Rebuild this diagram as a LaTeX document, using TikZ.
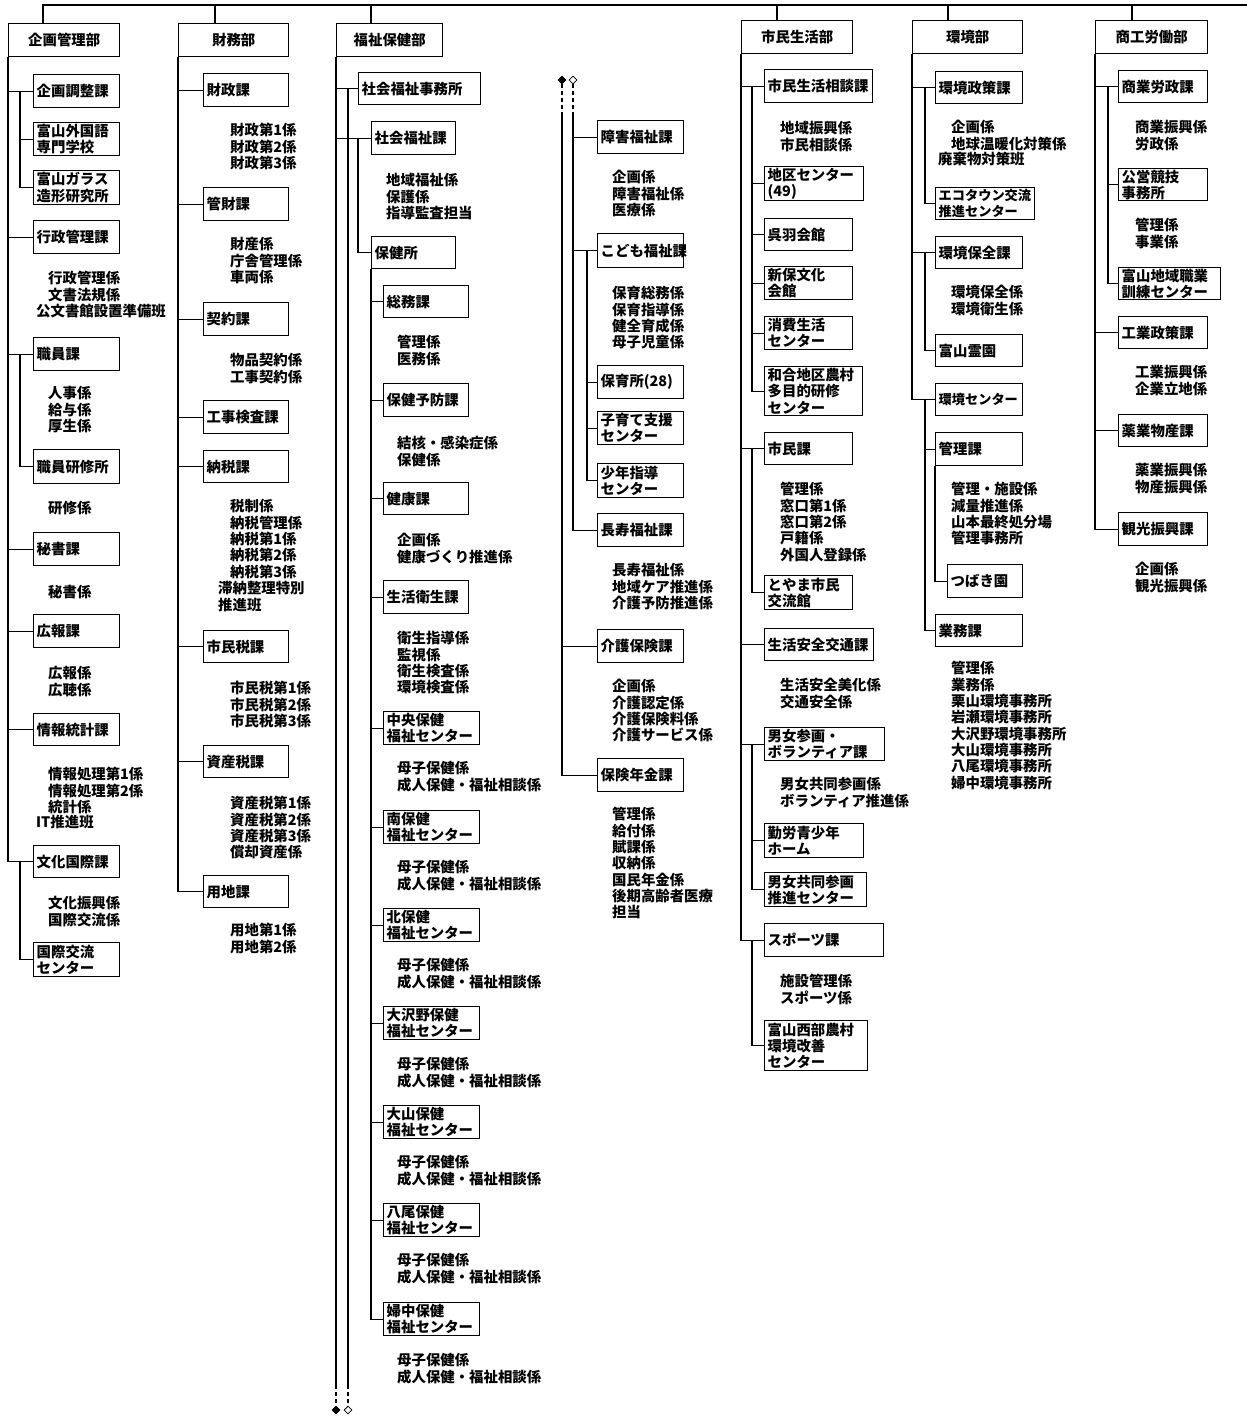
\documentclass[tikz,border=0pt]{standalone}
\usepackage{fontspec}
\setmainfont{Noto Sans CJK JP}
\usetikzlibrary{shapes.geometric}
\newcommand\txtfont{\bfseries\fontsize{14.4}{16.3}\selectfont}
\newcommand\ob[6]{\pgfmathsetmacro\obw{#4-#2-6}\pgfmathsetmacro\obh{#5-#3}%
  \node[obox, anchor=north west, text width=\obw pt, minimum height=\obh pt] (#1) at (#2,#3) {#6};}
\newcommand\db[6]{\pgfmathsetmacro\obw{#4-#2}\pgfmathsetmacro\obh{#5-#3}%
  \node[dbox, anchor=north west, minimum width=\obw pt, minimum height=\obh pt] (#1) at (#2,#3) {#6};}
\newcommand\lst[4]{\node[lsttext, anchor=north west] (#1) at (#2,#3-6.7) {#4};}
\begin{document}
\begin{tikzpicture}[x=1pt,y=-1pt,
  ln/.style={line width=1.4pt},
  obox/.style={draw, line width=1.4pt, inner xsep=3pt, inner ysep=0pt, align=left, font=\txtfont},
  dbox/.style={draw, line width=1.4pt, inner sep=0pt, align=center, font=\txtfont},
  lsttext/.style={inner sep=0pt, align=left, font=\txtfont},
  fdia/.style={diamond, draw, fill=black, inner sep=0pt, minimum size=8pt, line width=0.8pt},
  odia/.style={diamond, draw, fill=white, inner sep=0pt, minimum size=8pt, line width=0.8pt}]
\useasboundingbox (0,0) rectangle (1247,1416);
\fill[white] (0,0) rectangle (1247,1416);
\coordinate (topR) at (1247,5);

% ---------- column 1 ----------
\db{d1}{8}{23}{119}{56}{企画管理部}
\ob{k1}{33}{74}{119}{107}{企画調整課}
\ob{k2}{33}{122}{119}{155}{富山外国語\\専門学校}
\ob{k3}{33}{170}{119}{204}{富山ガラス\\造形研究所}
\ob{k4}{33}{220}{119}{253}{行政管理課}
\lst{l4}{48}{278}{行政管理係\\文書法規係}
\lst{l4b}{36}{311}{公文書館設置準備班}
\ob{k5}{33}{337}{119}{370}{職員課}
\lst{l5}{48}{393}{人事係\\給与係\\厚生係}
\ob{k6}{33}{449}{119}{483}{職員研修所}
\lst{l6}{48}{508}{研修係}
\ob{k7}{33}{532}{119}{565}{秘書課}
\lst{l7}{48}{592}{秘書係}
\ob{k8}{33}{614}{119}{647}{広報課}
\lst{l8}{48}{673}{広報係\\広聴係}
\ob{k9}{33}{713}{119}{745}{情報統計課}
\lst{l9}{48}{774}{情報処理第1係\\情報処理第2係\\統計係}
\lst{l9b}{36}{822}{IT推進班}
\ob{k10}{33}{845}{119}{877}{文化国際課}
\lst{l10}{48}{903}{文化振興係\\国際交流係}
\ob{k11}{33}{942}{119}{976}{国際交流\\センター}
\coordinate (s1) at (20,0);
\draw[ln] ([xshift=35pt]d1.north west) |- (topR);
\draw[ln] (d1.south west) |- (k10.west);
\foreach \n in {k1,k4,k5,k7,k8,k9} \draw[ln] (d1.south west |- \n.west) -- (\n.west);
\draw[ln] (s1 |- k1.west) |- (k3.west);
\draw[ln] (s1 |- k2.west) -- (k2.west);
\draw[ln] (s1 |- k5.west) |- (k6.west);
\draw[ln] (s1 |- k10.west) |- (k11.west);

% ---------- column 2 ----------
\db{d2}{178}{23}{288}{56}{財務部}
\ob{z1}{203}{73}{288}{106}{財政課}
\lst{m1}{230}{130}{財政第1係\\財政第2係\\財政第3係}
\ob{z2}{203}{187}{288}{220}{管財課}
\lst{m2}{230}{244}{財産係\\庁舎管理係\\車両係}
\ob{z3}{203}{302}{288}{335}{契約課}
\lst{m3}{230}{360}{物品契約係\\工事契約係}
\ob{z4}{203}{400}{288}{433}{工事検査課}
\ob{z5}{203}{450}{288}{482}{納税課}
\lst{m5}{230}{506}{税制係\\納税管理係\\納税第1係\\納税第2係\\納税第3係}
\lst{m5b}{218}{588}{滞納整理特別\\推進班}
\ob{z6}{203}{630}{288}{662}{市民税課}
\lst{m6}{230}{688}{市民税第1係\\市民税第2係\\市民税第3係}
\ob{z7}{203}{745}{288}{777}{資産税課}
\lst{m7}{230}{803}{資産税第1係\\資産税第2係\\資産税第3係\\償却資産係}
\ob{z8}{203}{875}{288}{907}{用地課}
\lst{m8}{230}{930}{用地第1係\\用地第2係}
\draw[ln] ([xshift=37pt]d2.north west) |- (topR);
\draw[ln] (d2.south west) |- (z8.west);
\foreach \n in {z1,z2,z3,z4,z5,z6,z7} \draw[ln] (d2.south west |- \n.west) -- (\n.west);

% ---------- column 3 ----------
\db{d3}{336}{23}{442}{56}{福祉保健部}
\ob{f1}{358}{72}{480}{104}{社会福祉事務所}
\ob{f2}{371}{121}{455}{154}{社会福祉課}
\lst{n2}{386}{180}{地域福祉係\\保護係\\指導監査担当}
\ob{f3}{371}{236}{455}{268}{保健所}
\ob{f4}{383}{285}{468}{317}{総務課}
\lst{n4}{397}{342}{管理係\\医務係}
\ob{f5}{383}{383}{468}{416}{保健予防課}
\lst{n5}{397}{443}{結核・感染症係\\保健係}
\ob{f6}{383}{482}{468}{514}{健康課}
\lst{n6}{397}{540}{企画係\\健康づくり推進係}
\ob{f7}{383}{580}{468}{613}{生活衛生課}
\lst{n7}{397}{638}{衛生指導係\\監視係\\衛生検査係\\環境検査係}
\ob{c1}{383}{711}{479}{744}{中央保健\\福祉センター}
\lst{p1}{397}{768}{母子保健係\\成人保健・福祉相談係}
\ob{c2}{383}{810}{479}{843}{南保健\\福祉センター}
\lst{p2}{397}{867}{母子保健係\\成人保健・福祉相談係}
\ob{c3}{383}{908}{479}{941}{北保健\\福祉センター}
\lst{p3}{397}{965}{母子保健係\\成人保健・福祉相談係}
\ob{c4}{383}{1006}{479}{1039}{大沢野保健\\福祉センター}
\lst{p4}{397}{1064}{母子保健係\\成人保健・福祉相談係}
\ob{c5}{383}{1105}{479}{1138}{大山保健\\福祉センター}
\lst{p5}{397}{1162}{母子保健係\\成人保健・福祉相談係}
\ob{c6}{383}{1203}{479}{1236}{八尾保健\\福祉センター}
\lst{p6}{397}{1260}{母子保健係\\成人保健・福祉相談係}
\ob{c7}{383}{1302}{479}{1335}{婦中保健\\福祉センター}
\lst{p7}{397}{1360}{母子保健係\\成人保健・福祉相談係}
\draw[ln] ([xshift=35pt]d3.north west) |- (topR);
\coordinate (A) at (336,0);
\coordinate (B) at (348,0);
\coordinate (C) at (358,0);
\coordinate (Aend) at (336,1385);
\coordinate (Bend) at (348,1385);
\node[fdia] (dA) at (336,1410) {};
\node[odia] (dB) at (348,1410) {};
\draw[ln] (d3.south west) -- (Aend);
\draw[ln, dash pattern=on 4pt off 3pt] (Aend) -- (dA.north);
\draw[ln] (A |- f1.west) -- (f1.west);
\draw[ln] (B |- f1.west) -- (Bend);
\draw[ln, dash pattern=on 4pt off 3pt] (Bend) -- (dB.north);
\draw[ln] (A |- f2.west) -- (f2.west);
\draw[ln] (C |- f2.west) |- (f3.west);
\draw[ln] (f3.south west) |- (c7.west);
\foreach \n in {f4,f5,f6,f7,c1,c2,c3,c4,c5,c6} \draw[ln] (f3.south west |- \n.west) -- (\n.west);

% ---------- column 4 ----------
\ob{g1}{597}{120}{683}{153}{障害福祉課}
\lst{q1}{612}{177}{企画係\\障害福祉係\\医療係}
\ob{g2}{597}{233}{683}{267}{こども福祉課}
\lst{q2}{612}{293}{保育総務係\\保育指導係\\健全育成係\\母子児童係}
\ob{g3}{597}{365}{683}{398}{保育所(28)}
\ob{g4}{597}{411}{683}{444}{子育て支援\\センター}
\ob{g5}{597}{463}{683}{497}{少年指導\\センター}
\ob{g6}{597}{513}{683}{546}{長寿福祉課}
\lst{q6}{612}{570}{長寿福祉係\\地域ケア推進係\\介護予防推進係}
\ob{g7}{597}{629}{683}{662}{介護保険課}
\lst{q7}{612}{686}{企画係\\介護認定係\\介護保険料係\\介護サービス係}
\ob{g8}{597}{758}{683}{791}{保険年金課}
\lst{q8}{612}{814}{管理係\\給付係\\賦課係\\収納係\\国民年金係\\後期高齢者医療\\担当}
\node[fdia] (dA2) at (562,80) {};
\node[odia] (dB2) at (573,80) {};
\coordinate (A2) at (562,116);
\coordinate (B2) at (573,116);
\coordinate (D) at (587,0);
\draw[ln, dash pattern=on 4pt off 3pt] (dA2.south) -- (A2);
\draw[ln, dash pattern=on 4pt off 3pt] (dB2.south) -- (B2);
\draw[ln] (A2) |- (g8.west);
\draw[ln] (A2 |- g7.west) -- (g7.west);
\draw[ln] (B2) |- (g6.west);
\draw[ln] (B2 |- g1.west) -- (g1.west);
\draw[ln] (B2 |- g2.west) -- (g2.west);
\draw[ln] (D |- g2.west) |- (g5.west);
\draw[ln] (D |- g3.west) -- (g3.west);
\draw[ln] (D |- g4.west) -- (g4.west);

% ---------- column 5 ----------
\db{d5}{741}{20}{852}{53}{市民生活部}
\ob{h1}{764}{69}{872}{102}{市民生活相談課}
\lst{r1}{780}{128}{地域振興係\\市民相談係}
\ob{h2}{764}{166}{863}{200}{地区センター\\(49)}
\ob{h3}{764}{218}{852}{250}{呉羽会館}
\ob{h4}{764}{266}{852}{299}{新保文化\\会館}
\ob{h5}{764}{316}{852}{349}{消費生活\\センター}
\ob{h6}{764}{366}{862}{415}{和合地区農村\\多目的研修\\センター}
\ob{h7}{764}{432}{852}{464}{市民課}
\lst{r7}{780}{489}{管理係\\窓口第1係\\窓口第2係\\戸籍係\\外国人登録係}
\ob{h8}{764}{575}{852}{609}{とやま市民\\交流館}
\ob{h9}{764}{628}{873}{660}{生活安全交通課}
\lst{r9}{780}{685}{生活安全美化係\\交通安全係}
\ob{h10}{764}{727}{884}{760}{男女参画・\\ボランティア課}
\lst{r10}{780}{784}{男女共同参画係\\ボランティア推進係}
\ob{h11}{764}{823}{863}{857}{勤労青少年\\ホーム}
\ob{h12}{764}{872}{866}{906}{男女共同参画\\推進センター}
\ob{h13}{764}{923}{883}{956}{スポーツ課}
\lst{r13}{780}{981}{施設管理係\\スポーツ係}
\ob{h14}{764}{1020}{867}{1070}{富山西部農村\\環境改善\\センター}
\coordinate (E) at (752,0);
\draw[ln] ([xshift=36pt]d5.north west) |- (topR);
\draw[ln] (d5.south west) |- (h13.west);
\foreach \n in {h1,h7,h9,h10} \draw[ln] (d5.south west |- \n.west) -- (\n.west);
\draw[ln] (E |- h1.west) |- (h6.west);
\foreach \n in {h2,h3,h4,h5} \draw[ln] (E |- \n.west) -- (\n.west);
\draw[ln] (E |- h7.west) |- (h8.west);
\draw[ln] (E |- h10.west) |- (h12.west);
\draw[ln] (E |- h11.west) -- (h11.west);
\draw[ln] (E |- h13.west) |- (h14.west);

% ---------- column 6 ----------
\db{d6}{912}{20}{1022}{53}{環境部}
\ob{e1}{935}{71}{1022}{103}{環境政策課}
\lst{s1}{951}{127}{企画係\\地球温暖化対策係}
\lst{s1b}{938}{159}{廃棄物対策班}
\node[obox, anchor=north west, text width=93pt, minimum height=32pt, font=\bfseries\fontsize{13.2}{16.3}\selectfont] (e2) at (935,187) {エコタウン交流\\推進センター};
\ob{e3}{935}{236}{1022}{268}{環境保全課}
\lst{s3}{951}{292}{環境保全係\\環境衛生係}
\ob{e4}{935}{334}{1022}{366}{富山霊園}
\node[obox, anchor=north west, text width=81pt, minimum height=32pt, font=\bfseries\fontsize{13.2}{16.3}\selectfont] (e5) at (935,383) {環境センター};
\ob{e6}{935}{432}{1022}{465}{管理課}
\lst{s6}{951}{489}{管理・施設係\\減量推進係\\山本最終処分場\\管理事務所}
\ob{e7}{947}{564}{1022}{597}{つばき園}
\ob{e8}{935}{614}{1022}{646}{業務課}
\lst{s8}{951}{668}{管理係\\業務係\\栗山環境事務所\\岩瀬環境事務所\\大沢野環境事務所\\大山環境事務所\\八尾環境事務所\\婦中環境事務所}
\coordinate (F) at (925,0);
\draw[ln] ([xshift=36pt]d6.north west) |- (topR);
\draw[ln] (d6.south west) |- (e5.west);
\foreach \n in {e1,e3} \draw[ln] (d6.south west |- \n.west) -- (\n.west);
\draw[ln] (F |- e1.west) |- (e2.west);
\draw[ln] (F |- e3.west) |- (e4.west);
\draw[ln] (F |- e5.west) |- (e8.west);
\draw[ln] (F |- e6.west) -- (e6.west);
\draw[ln] (e6.south west) |- (e7.west);

% ---------- column 7 ----------
\db{d7}{1095}{20}{1207}{53}{商工労働部}
\ob{w1}{1118}{70}{1207}{102}{商業労政課}
\lst{t1}{1135}{127}{商業振興係\\労政係}
\ob{w2}{1118}{168}{1207}{200}{公営競技\\事務所}
\lst{t2}{1135}{225}{管理係\\事業係}
\ob{w3}{1118}{267}{1220}{299}{富山地域職業\\訓練センター}
\ob{w4}{1118}{316}{1207}{348}{工業政策課}
\lst{t4}{1135}{372}{工業振興係\\企業立地係}
\ob{w5}{1118}{414}{1207}{446}{薬業物産課}
\lst{t5}{1135}{470}{薬業振興係\\物産振興係}
\ob{w6}{1118}{512}{1207}{545}{観光振興課}
\lst{t6}{1135}{569}{企画係\\観光振興係}
\coordinate (G) at (1108,0);
\draw[ln] ([xshift=37pt]d7.north west) |- (topR);
\draw[ln] (d7.south west) |- (w6.west);
\foreach \n in {w1,w4,w5} \draw[ln] (d7.south west |- \n.west) -- (\n.west);
\draw[ln] (G |- w1.west) |- (w3.west);
\draw[ln] (G |- w2.west) -- (w2.west);
\end{tikzpicture}
\end{document}
